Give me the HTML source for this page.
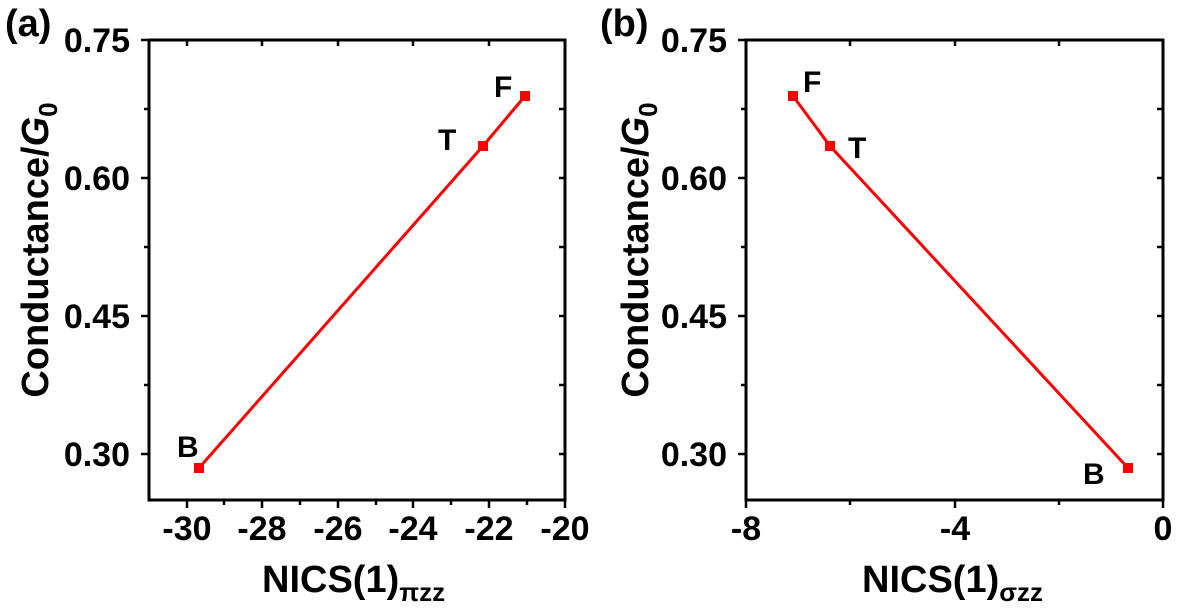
<!DOCTYPE html>
<html><head><meta charset="utf-8"><style>
body{margin:0;background:#fff;}
svg text{font-family:"Liberation Sans",Arial,sans-serif;font-weight:bold;fill:#000;}
</style></head><body>
<svg width="1184" height="609" viewBox="0 0 1184 609" xmlns="http://www.w3.org/2000/svg">
<!-- Panel a -->
<g>
<rect x="149" y="40" width="416" height="460" fill="none" stroke="#000" stroke-width="3"/>
<g stroke="#000" stroke-width="2.5">
<line x1="149" y1="40" x2="141" y2="40"/><line x1="149" y1="178" x2="141" y2="178"/>
<line x1="149" y1="316" x2="141" y2="316"/><line x1="149" y1="454" x2="141" y2="454"/>
<line x1="149" y1="109" x2="144" y2="109"/><line x1="149" y1="247" x2="144" y2="247"/><line x1="149" y1="385" x2="144" y2="385"/>
<line x1="187" y1="500" x2="187" y2="508"/><line x1="262" y1="500" x2="262" y2="508"/>
<line x1="338" y1="500" x2="338" y2="508"/><line x1="413" y1="500" x2="413" y2="508"/>
<line x1="489" y1="500" x2="489" y2="508"/><line x1="565" y1="500" x2="565" y2="508"/>
<line x1="224" y1="500" x2="224" y2="505"/><line x1="300" y1="500" x2="300" y2="505"/>
<line x1="376" y1="500" x2="376" y2="505"/><line x1="451" y1="500" x2="451" y2="505"/><line x1="527" y1="500" x2="527" y2="505"/>
<line x1="187" y1="40" x2="187" y2="46"/><line x1="262" y1="40" x2="262" y2="46"/>
<line x1="338" y1="40" x2="338" y2="46"/><line x1="413" y1="40" x2="413" y2="46"/><line x1="489" y1="40" x2="489" y2="46"/>
<line x1="565" y1="109" x2="559" y2="109"/><line x1="565" y1="178" x2="559" y2="178"/><line x1="565" y1="247" x2="559" y2="247"/>
<line x1="565" y1="316" x2="559" y2="316"/><line x1="565" y1="385" x2="559" y2="385"/><line x1="565" y1="454" x2="559" y2="454"/>
</g>
<g font-size="34" text-anchor="end">
<text x="130" y="52">0.75</text><text x="130" y="190">0.60</text>
<text x="130" y="328">0.45</text><text x="130" y="466">0.30</text>
</g>
<g font-size="34" text-anchor="middle">
<text x="187" y="540">-30</text><text x="262" y="540">-28</text><text x="338" y="540">-26</text>
<text x="413" y="540">-24</text><text x="489" y="540">-22</text><text x="565" y="540">-20</text>
</g>
<text x="262" y="592" font-size="38">NICS(1)<tspan font-size="26" dy="9">πzz</tspan></text>
<text transform="translate(48,250) rotate(-90)" font-size="38" text-anchor="middle">Conductance/<tspan font-style="italic">G</tspan><tspan font-size="26" dy="9">0</tspan></text>
<text x="5" y="36" font-size="38">(a)</text>
<polyline points="199,468 483,146 525,96" fill="none" stroke="#f00" stroke-width="3"/>
<rect x="194" y="463" width="10" height="10" fill="#f00"/>
<rect x="478" y="141" width="10" height="10" fill="#f00"/>
<rect x="520" y="91" width="10" height="10" fill="#f00"/>
<g font-size="30"><text x="177" y="457">B</text><text x="438" y="150">T</text><text x="494" y="97">F</text></g>
</g>
<!-- Panel b -->
<g>
<rect x="746" y="40" width="417" height="460" fill="none" stroke="#000" stroke-width="3"/>
<g stroke="#000" stroke-width="2.5">
<line x1="746" y1="40" x2="738" y2="40"/><line x1="746" y1="178" x2="738" y2="178"/>
<line x1="746" y1="316" x2="738" y2="316"/><line x1="746" y1="454" x2="738" y2="454"/>
<line x1="746" y1="109" x2="741" y2="109"/><line x1="746" y1="247" x2="741" y2="247"/><line x1="746" y1="385" x2="741" y2="385"/>
<line x1="746" y1="500" x2="746" y2="508"/><line x1="955" y1="500" x2="955" y2="508"/><line x1="1163" y1="500" x2="1163" y2="508"/>
<line x1="850" y1="500" x2="850" y2="505"/><line x1="1059" y1="500" x2="1059" y2="505"/>
<line x1="850" y1="40" x2="850" y2="46"/><line x1="955" y1="40" x2="955" y2="46"/><line x1="1059" y1="40" x2="1059" y2="46"/>
<line x1="1163" y1="109" x2="1157" y2="109"/><line x1="1163" y1="178" x2="1157" y2="178"/><line x1="1163" y1="247" x2="1157" y2="247"/>
<line x1="1163" y1="316" x2="1157" y2="316"/><line x1="1163" y1="385" x2="1157" y2="385"/><line x1="1163" y1="454" x2="1157" y2="454"/>
</g>
<g font-size="34" text-anchor="end">
<text x="727" y="52">0.75</text><text x="727" y="190">0.60</text>
<text x="727" y="328">0.45</text><text x="727" y="466">0.30</text>
</g>
<g font-size="34" text-anchor="middle">
<text x="746" y="540">-8</text><text x="955" y="540">-4</text><text x="1163" y="540">0</text>
</g>
<text x="862" y="592" font-size="38">NICS(1)<tspan font-size="26" dy="9">σzz</tspan></text>
<text transform="translate(648,250) rotate(-90)" font-size="38" text-anchor="middle">Conductance/<tspan font-style="italic">G</tspan><tspan font-size="26" dy="9">0</tspan></text>
<text x="600" y="36" font-size="38">(b)</text>
<polyline points="793,96 830,146 1128,468" fill="none" stroke="#f00" stroke-width="3"/>
<rect x="788" y="91" width="10" height="10" fill="#f00"/>
<rect x="825" y="141" width="10" height="10" fill="#f00"/>
<rect x="1123" y="463" width="10" height="10" fill="#f00"/>
<g font-size="30"><text x="803" y="92">F</text><text x="848" y="158">T</text><text x="1083" y="484">B</text></g>
</g>
</svg>
</body></html>
